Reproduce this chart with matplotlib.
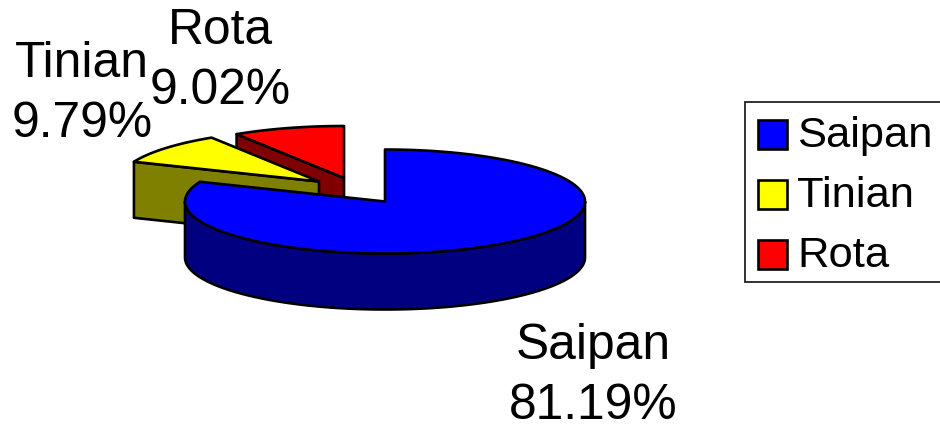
import numpy as np
import matplotlib
matplotlib.use("Agg")
import matplotlib.pyplot as plt
from matplotlib.patches import Polygon, Rectangle

categories = ["Saipan", "Tinian", "Rota"]
shares = [81.19, 9.79, 9.02]
labels = ["81.19%", "9.79%", "9.02%"]
top_colors = ["#0000ff", "#ffff00", "#ff0000"]
side_colors = ["#000080", "#808000", "#800000"]

plt.rcParams["font.family"] = ["Liberation Sans", "DejaVu Sans"]
W, H = 940, 428
fig = plt.figure(figsize=(W / 100, H / 100), dpi=100)
ax = fig.add_axes([0, 0, 1, 1])
ax.set_xlim(0, W)
ax.set_ylim(H, 0)
ax.axis("off")

RX, RY, DEPTH = 200, 52, 56
centers = {"Saipan": (385, 201.5), "Tinian": (319, 181.5), "Rota": (344, 178)}
LW = 1.9


def rim(c, a0, a1, n=120):
    t = np.radians(np.linspace(a0, a1, n))
    return np.column_stack([c[0] + RX * np.sin(t), c[1] - RY * np.cos(t)])


def draw_slice(name, a0, a1, z):
    i = categories.index(name)
    c = centers[name]
    edge = rim(c, a0, a1)
    down = np.array([0, DEPTH])
    kw = dict(fc=side_colors[i], ec="black", lw=LW, joinstyle="round", zorder=z)
    apex = np.array(c, float)
    # cut faces, only those turned to the viewer
    if np.sin(np.radians(a0)) < -1e-6:
        ax.add_patch(Polygon([apex, edge[0], edge[0] + down, apex + down], **kw))
    if np.sin(np.radians(a1)) > 1e-6:
        ax.add_patch(Polygon([apex, edge[-1], edge[-1] + down, apex + down], **kw))
    # outer wall: lower half of the rim
    lo, hi = max(a0, 90), min(a1, 270)
    if hi > lo:
        wall = rim(c, lo, hi)
        ax.add_patch(Polygon(np.vstack([wall, (wall + down)[::-1]]), **kw))
    ax.add_patch(Polygon(np.vstack([apex, edge]), fc=top_colors[i], ec="black",
                         lw=LW, joinstyle="round", zorder=z + 0.5))


cum = np.cumsum([0] + shares) / sum(shares) * 360
draw_slice("Rota", cum[2], cum[3], 1)
draw_slice("Tinian", cum[1], cum[2], 2)
draw_slice("Saipan", cum[0], cum[1], 3)

FS = 35.8
positions = {"Saipan": (593, 376), "Tinian": (82, 94), "Rota": (220, 61)}
for name, lab in zip(categories, labels):
    x, y = positions[name]
    ax.text(x, y, f"{name}\n{lab}", ha="center", va="center", fontsize=FS,
            color="black", linespacing=1.39, zorder=5)

# legend
ax.add_patch(Rectangle((745, 102), 200, 180, fc="white", ec="#222222", lw=1.3, zorder=6))
for name, color, y in zip(categories, top_colors, [134, 194, 254]):
    ax.add_patch(Rectangle((758, y - 14), 28.5, 28.5, fc=color, ec="black", lw=1.9, zorder=7))
    ax.text(797, y + 2, name, ha="left", va="center", fontsize=31.3, color="black", zorder=7)

fig.savefig("out.png", dpi=100)
